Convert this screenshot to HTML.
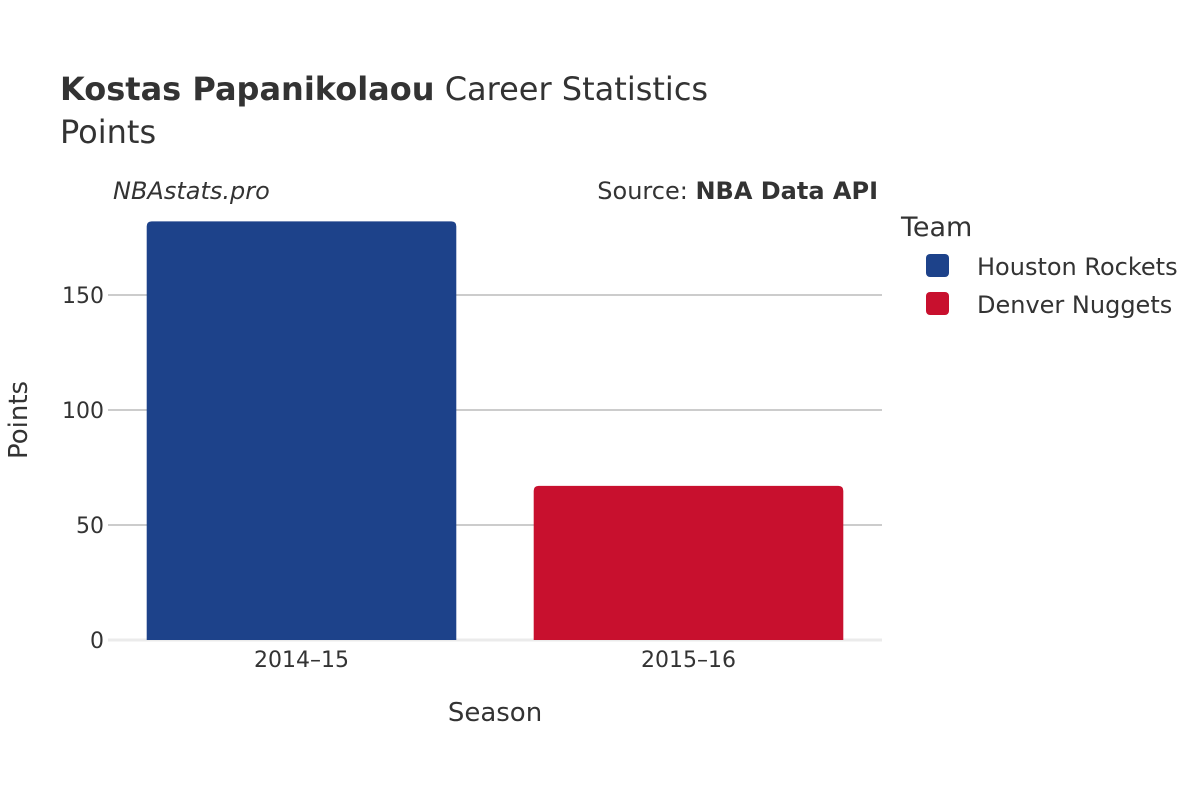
<!DOCTYPE html>
<html><head><meta charset="utf-8"><style>
body{margin:0;background:#fff;}
svg text{font-family:"DejaVu Sans","Liberation Sans",sans-serif;fill:#333;}
</style></head><body>
<svg width="1200" height="800">
<text x="60" y="100" font-size="32"><tspan font-weight="bold">Kostas Papanikolaou</tspan> Career Statistics</text>
<text x="60" y="143" font-size="32">Points</text>
<text x="113" y="199" font-size="24" font-style="italic">NBAstats.pro</text>
<text x="878" y="199" font-size="24" text-anchor="end">Source: <tspan font-weight="bold">NBA Data API</tspan></text>
<g id="grid"></g>
<g id="bars"></g>
<g id="xt"></g>
<text x="495" y="721" font-size="26" text-anchor="middle">Season</text>
<text transform="translate(27,420) rotate(-90)" font-size="26" text-anchor="middle">Points</text>
<text x="901" y="236" font-size="27">Team</text>
<g><rect x="926" y="254" width="23" height="23" rx="4" fill="#1d428a"/><text x="977" y="275" font-size="24">Houston Rockets</text></g>
<g><rect x="926" y="292" width="23" height="23" rx="4" fill="#c8102e"/><text x="977" y="313" font-size="24">Denver Nuggets</text></g>
</svg>
<script>
const categories=["2014–15","2015–16"];
const values=[182,67];
const colors=["#1d428a","#c8102e"];
const ticks=[0,50,100,150];
const x0=108,x1=882,y0=640,yPerUnit=345/150;
const y=v=>y0-v*yPerUnit;
const band=(x1-x0)/categories.length;
const ns="http://www.w3.org/2000/svg";
const grid=document.getElementById('grid'),bars=document.getElementById('bars'),xt=document.getElementById('xt');
ticks.forEach(t=>{
 const l=document.createElementNS(ns,'line');
 
 
 l.setAttribute('x1',x0);l.setAttribute('x2',x1);l.setAttribute('y1',y(t));l.setAttribute('y2',y(t));
 l.setAttribute('stroke',t===0?'#ebebeb':'#999');l.setAttribute('stroke-width',t===0?3:1);
 grid.appendChild(l);
 const tx=document.createElementNS(ns,'text');
 
 
 tx.setAttribute('x',x0-4);tx.setAttribute('y',y(t)+8);tx.setAttribute('text-anchor','end');tx.setAttribute('font-size','22');
 tx.textContent=t;grid.appendChild(tx);
});
categories.forEach((c,i)=>{
 const bw=band*0.8,bx=x0+band*i+band*0.1;
 const r=document.createElementNS(ns,'path');
 
 
 const top=y(values[i]),rr=5;
 r.setAttribute('d',`M${bx},${y0} V${top+rr} Q${bx},${top} ${bx+rr},${top} H${bx+bw-rr} Q${bx+bw},${top} ${bx+bw},${top+rr} V${y0} Z`);
 r.setAttribute('fill',colors[i]);bars.appendChild(r);
 const tx=document.createElementNS(ns,'text');
 
 
 tx.setAttribute('x',bx+bw/2);tx.setAttribute('y',667);tx.setAttribute('text-anchor','middle');tx.setAttribute('font-size','22');
 tx.textContent=c;xt.appendChild(tx);
});
</script>
</body></html>
